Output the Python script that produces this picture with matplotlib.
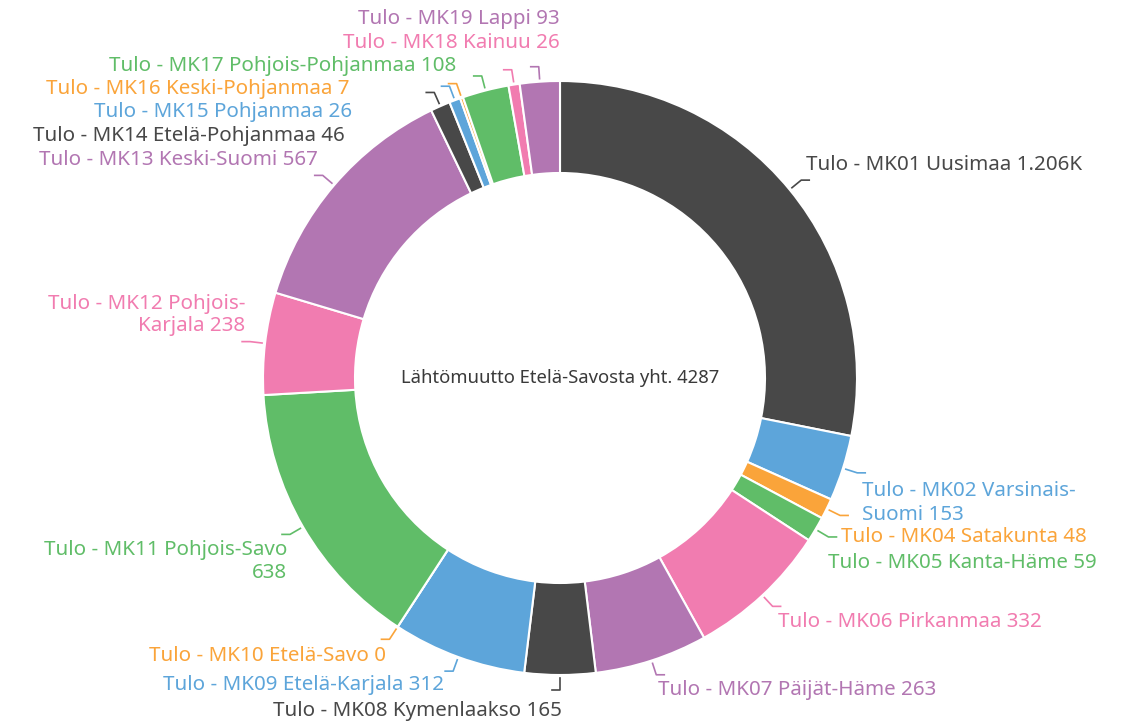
import numpy as np
import matplotlib
matplotlib.use('Agg')
import matplotlib.pyplot as plt

# data (clockwise from 12 o'clock)
regions = ['Tulo - MK01 Uusimaa', 'Tulo - MK02 Varsinais-\nSuomi', 'Tulo - MK04 Satakunta',
           'Tulo - MK05 Kanta-Häme', 'Tulo - MK06 Pirkanmaa', 'Tulo - MK07 Päijät-Häme',
           'Tulo - MK08 Kymenlaakso', 'Tulo - MK09 Etelä-Karjala', 'Tulo - MK10 Etelä-Savo',
           'Tulo - MK11 Pohjois-Savo\n', 'Tulo - MK12 Pohjois-\nKarjala', 'Tulo - MK13 Keski-Suomi',
           'Tulo - MK14 Etelä-Pohjanmaa', 'Tulo - MK15 Pohjanmaa', 'Tulo - MK16 Keski-Pohjanmaa',
           'Tulo - MK17 Pohjois-Pohjanmaa', 'Tulo - MK18 Kainuu', 'Tulo - MK19 Lappi']
values = [1206, 153, 48, 59, 332, 263, 165, 312, 0, 638, 238, 567, 46, 26, 7, 108, 26, 93]
value_text = ['1.206K', '153', '48', '59', '332', '263', '165', '312', '0', '638', '238',
              '567', '46', '26', '7', '108', '26', '93']
center_text = 'Lähtömuutto Etelä-Savosta yht. 4287'

palette = ['#484848', '#5DA5DA', '#FAA43A', '#60BD68', '#F17CB0', '#B276B2']
colors = [palette[i % 6] for i in range(len(values))]

# label anchor positions in pixels (x, y from top, ha)
label_pos = [(806, 165, 'left'), (862, 503, 'left'), (841, 537, 'left'), (828, 563, 'left'),
             (778, 622, 'left'), (658, 690, 'left'), (562, 711, 'right'), (444, 685, 'right'),
             (386, 656, 'right'), (287, 562, 'right'), (245, 315, 'right'), (318, 160, 'right'),
             (345, 136, 'right'), (352, 112, 'right'), (349, 89, 'right'), (456, 66, 'right'),
             (560, 43, 'right'), (560, 19, 'right')]

W, H = 1127, 721
cx, cy = 560, H - 378
R = 297
width = 92

plt.rcParams['font.family'] = ['Noto Sans', 'DejaVu Sans']
fig = plt.figure(figsize=(W / 100, H / 100), dpi=100)
ax = fig.add_axes([0, 0, 1, 1])

ax.pie(values, colors=colors, startangle=90, counterclock=False, radius=R, center=(cx, cy),
       wedgeprops=dict(width=width, edgecolor='white', linewidth=1.5))
ax.set_xlim(0, W)
ax.set_ylim(0, H)
ax.set_aspect('auto')
ax.axis('off')

total = sum(values)
cum = 0
for i, v in enumerate(values):
    mid = np.deg2rad(90 - 360 * (cum + v / 2) / total)
    cum += v
    x, y, ha = label_pos[i]
    y = H - y
    p1 = (cx + (R + 3) * np.cos(mid), cy + (R + 3) * np.sin(mid))
    p2 = (cx + (R + 15) * np.cos(mid), cy + (R + 15) * np.sin(mid))
    sgn = 1 if ha == 'left' else -1
    p3 = (p2[0] + sgn * 8, p2[1])
    ax.plot([p1[0], p2[0], p3[0]], [p1[1], p2[1], p3[1]], color=colors[i], lw=1.2)
    if regions[i].endswith('\n'):
        txt = regions[i] + value_text[i]
    else:
        txt = regions[i] + ' ' + value_text[i]
    ax.text(x, y, txt, ha=ha, va='center', color=colors[i], fontsize=14.8,
            fontweight='medium', multialignment=ha, linespacing=1.2)

ax.text(cx, cy, center_text, ha='center', va='center', color='#3a3a3a', fontsize=13.3,
        fontweight='medium')

fig.savefig('out.png', dpi=100, facecolor='white')
